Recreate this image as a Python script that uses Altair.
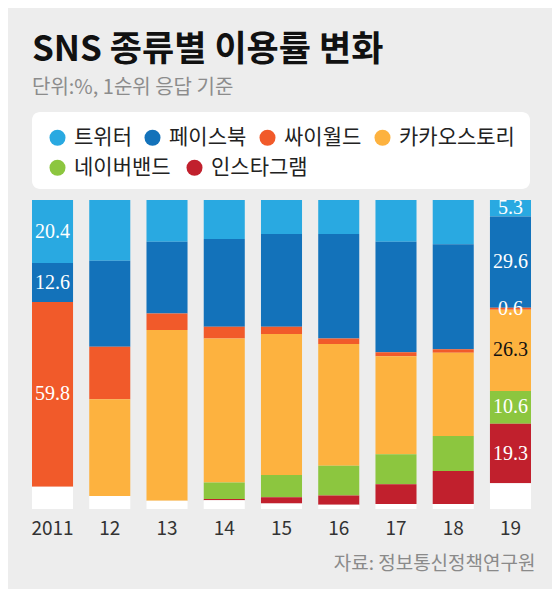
import altair as alt
import pandas as pd

years = ["2011", "12", "13", "14", "15", "16", "17", "18", "19"]
series = ["트위터", "페이스북", "싸이월드", "카카오스토리", "네이버밴드", "인스타그램"]
legend_row1 = ["트위터", "페이스북", "싸이월드", "카카오스토리"]
legend_row2 = ["네이버밴드", "인스타그램"]
other_name = "기타"

twitter = [20.4, 19.7, 13.5, 12.6, 11.0, 11.0, 13.5, 14.3, 5.3]
facebook = [12.6, 27.8, 23.2, 28.4, 30.0, 33.8, 35.8, 34.0, 29.6]
cyworld = [59.8, 17.0, 5.4, 3.8, 2.4, 1.8, 1.3, 1.1, 0.6]
kakao = [0.0, 31.3, 55.2, 46.6, 45.6, 39.4, 31.7, 27.0, 26.3]
band = [0.0, 0.0, 0.0, 5.4, 7.2, 9.6, 9.7, 11.3, 10.6]
insta = [0.0, 0.0, 0.0, 0.4, 2.0, 3.0, 6.4, 10.7, 19.3]

label_years = ["2011", "19"]

colors = ["#29a9e1", "#1372ba", "#f15a2a", "#fdb23f", "#8cc63f", "#c1202d", "#ffffff"]
color_of = dict(zip(series + [other_name], colors))

values = [twitter, facebook, cyworld, kakao, band, insta]
rows = []
for i, y in enumerate(years):
    total = 0.0
    for k, (name, vals) in enumerate(zip(series, values)):
        rows.append({"year": y, "series": name, "value": vals[i], "order": k,
                     "label": f"{vals[i]:.1f}"})
        total += vals[i]
    rows.append({"year": y, "series": other_name, "value": round(100 - total, 1),
                 "order": len(series), "label": ""})
df = pd.DataFrame(rows)

FONT = "Noto Sans CJK KR"

base = alt.Chart(df).transform_stack(
    stack="value", groupby=["year"], as_=["v0", "v1"],
    sort=[alt.SortField("order", order="ascending")]
).transform_calculate(mid="(datum.v0 + datum.v1) / 2")

x_enc = alt.X("year:N", sort=years,
              scale=alt.Scale(paddingInner=0.283, paddingOuter=0),
              axis=alt.Axis(title="자료: 정보통신정책연구원", labelAngle=0, domain=False,
                            ticks=False, labelPadding=10, labelFont=FONT,
                            labelFontSize=19, labelColor="#333333",
                            titleFont=FONT, titleFontSize=19, titleFontWeight="normal",
                            titleColor="#8a8a8a", titleX=503, titleAlign="right",
                            titlePadding=16))

y_scale = alt.Scale(domain=[0, 100], reverse=True, nice=False)

# white legend panel behind the two legend rows
panel = alt.Chart(alt.Data(values=[{"panel": 1}])).mark_rect(
    color="white", cornerRadius=8
).encode(x=alt.value(0), x2=alt.value(498), y=alt.value(-88), y2=alt.value(-11))

bars = base.mark_bar().encode(
    x=x_enc,
    y=alt.Y("v0:Q", scale=y_scale, axis=None),
    y2="v1:Q",
    color=alt.Color("series:N",
                    scale=alt.Scale(domain=series + [other_name], range=colors),
                    legend=alt.Legend(values=legend_row1, legendX=15, legendY=-73,
                                      columns=4, columnPadding=10)),
)

# second legend row (네이버밴드, 인스타그램) from an invisible layer
row2 = base.transform_filter(
    alt.FieldOneOfPredicate(field="series", oneOf=legend_row2)
).mark_point(filled=True, opacity=0).encode(
    x=alt.X("year:N", sort=years),
    y=alt.Y("mid:Q", scale=y_scale, axis=None),
    fill=alt.Fill("series:N",
                  scale=alt.Scale(domain=legend_row2,
                                  range=[color_of[s] for s in legend_row2]),
                  legend=alt.Legend(legendX=15, legendY=-43, columns=2,
                                    columnPadding=13)),
)

labels = base.transform_filter(
    alt.FieldOneOfPredicate(field="year", oneOf=label_years)
).transform_filter("datum.value > 0 && datum.label != ''").mark_text(
    font="Liberation Serif", fontSize=20, baseline="middle", align="center"
).encode(
    x=alt.X("year:N", sort=years),
    y=alt.Y("mid:Q", scale=y_scale, axis=None),
    text="label:N",
    color=alt.condition("datum.series == '카카오스토리'", alt.value("#111111"),
                        alt.value("#ffffff")),
)

chart = alt.layer(panel, bars, row2, labels).resolve_scale(
    color="independent", fill="independent"
).properties(
    width=499, height=309,
    padding={"left": 24, "top": 192, "right": 21, "bottom": 80},
    autosize=alt.AutoSizeParams(type="none"),
    background="#ededed",
    title=alt.TitleParams(text="SNS 종류별 이용률 변화",
                          subtitle="단위:%, 1순위 응답 기준",
                          anchor="start", frame="group", font=FONT, fontSize=35,
                          fontWeight="bold", color="#111111",
                          subtitleFont=FONT, subtitleFontSize=20,
                          subtitleColor="#8c8c8c", subtitlePadding=10, offset=14),
).configure_view(stroke=None).configure_legend(
    orient="none", direction="horizontal", title=None, padding=0,
    symbolType="circle", symbolSize=256, symbolStrokeWidth=0, symbolOpacity=1,
    labelFont=FONT, labelFontSize=21, labelColor="#222222", labelOffset=6,
)

chart.save("out.html", embed_options={"renderer": "svg", "actions": False})
